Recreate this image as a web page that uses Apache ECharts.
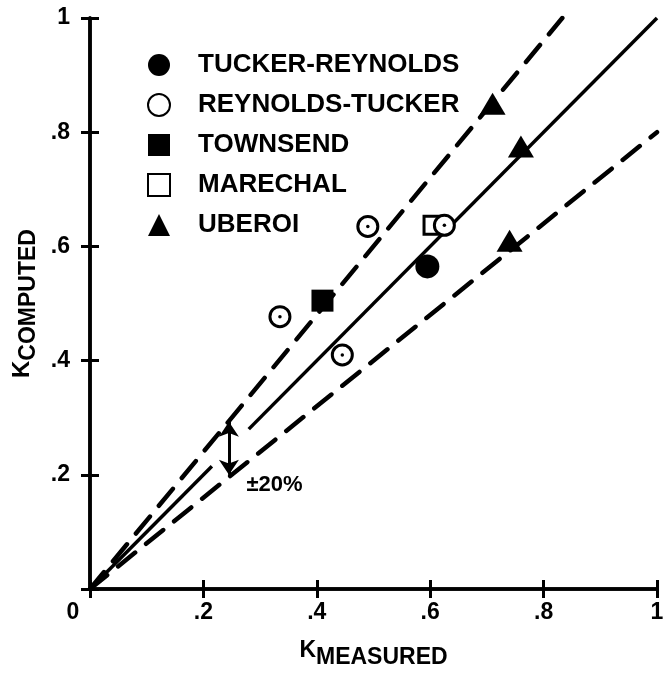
<!DOCTYPE html>
<html>
<head>
<meta charset="utf-8">
<script src="https://cdn.jsdelivr.net/npm/echarts@6/dist/echarts.min.js"></script>
<style>
  html, body { margin: 0; padding: 0; background: #fff; }
  #chart { width: 669px; height: 674px; }
</style>
</head>
<body>
<div id="chart"></div>
<script>
// Measured vs computed K for several data sets
const tuckerReynolds = [[0.595, 0.565]];
const reynoldsTucker = [[0.335, 0.477], [0.445, 0.41], [0.49, 0.635], [0.625, 0.637]];
const townsend = [[0.41, 0.505]];
const marechal = [[0.605, 0.637]];
const uberoi = [[0.71, 0.85], [0.76, 0.775], [0.74, 0.61]];

// Reference lines: perfect agreement (with a break at the annotation) and +/-20 %
const perfectLow = [[0, 0], [0.215, 0.215]];
const perfectHigh = [[0.28, 0.28], [1, 1]];
const plus20 = [[0, 0], [0.833, 1]];
const minus20 = [[0, 0], [1, 0.8]];

// Double-headed arrow marking the band and its label
const bandArrow = [[0.245, 0.2], [0.245, 0.293]];
const bandLabel = [[0.276, 0.183]];
const bandText = '\u00b120%';

// Axis ticks
const tickValues = [0, 0.2, 0.4, 0.6, 0.8, 1];
const tickLabels = ['0', '.2', '.4', '.6', '.8', '1'];

const FONT = '"Liberation Sans", Arial, sans-serif';
const INK = '#000';

function labelFor(v) {
  const i = tickValues.findIndex(t => Math.abs(t - v) < 1e-6);
  return i >= 0 ? tickLabels[i] : '';
}

const axisLineStyle = { color: INK, width: 3.5 };
const tickStyle = { show: true, inside: true, length: 9, lineStyle: { color: INK, width: 3 } };

const chart = echarts.init(document.getElementById('chart'), null, { renderer: 'canvas' });

chart.setOption({
  animation: false,
  backgroundColor: '#fff',
  grid: { left: 90, top: 18, width: 567, height: 575 },
  legend: {
    orient: 'vertical',
    left: 142,
    top: 47,
    itemWidth: 22,
    itemHeight: 22,
    itemGap: 14,
    selectedMode: false,
    textStyle: { color: INK, fontFamily: FONT, fontWeight: 'bold', fontSize: 26, lineHeight: 26, padding: [0, 0, 0, 23] },
    data: ['TUCKER-REYNOLDS', 'REYNOLDS-TUCKER', 'TOWNSEND', 'MARECHAL', 'UBEROI']
  },
  xAxis: [
    {
      type: 'value', min: 0, max: 1, interval: 0.2, position: 'bottom',
      axisLine: { show: true, lineStyle: axisLineStyle },
      axisTick: tickStyle,
      splitLine: { show: false },
      axisLabel: {
        margin: 12,
        color: INK, fontFamily: FONT, fontWeight: 'bold', fontSize: 23,
        formatter: v => v === 0 ? '{z|0}' : labelFor(v),
        rich: { z: { color: INK, fontFamily: FONT, fontWeight: 'bold', fontSize: 23, padding: [0, 34, 0, 0] } }
      },
      name: '{k|K}{s|MEASURED}',
      nameLocation: 'middle',
      nameGap: 50,
      nameTextStyle: {
        color: INK,
        rich: {
          k: { color: INK, fontFamily: FONT, fontWeight: 'bold', fontSize: 23, verticalAlign: 'top', lineHeight: 30 },
          s: { color: INK, fontFamily: FONT, fontWeight: 'bold', fontSize: 23, verticalAlign: 'bottom', lineHeight: 30, padding: [8, 0, 0, 0] }
        }
      }
    },
    {
      type: 'value', min: 0, max: 1, interval: 0.2, position: 'top',
      axisLine: { show: true, lineStyle: axisLineStyle },
      axisTick: tickStyle,
      axisLabel: { show: false },
      splitLine: { show: false }
    }
  ],
  yAxis: [
    {
      type: 'value', min: 0, max: 1, interval: 0.2, position: 'left',
      axisLine: { show: true, lineStyle: axisLineStyle },
      axisTick: tickStyle,
      splitLine: { show: false },
      axisLabel: {
        margin: 20,
        color: INK, fontFamily: FONT, fontWeight: 'bold', fontSize: 23,
        formatter: v => v === 0 ? '' : labelFor(v)
      },
      name: '{k|K}{s|COMPUTED}',
      nameLocation: 'middle',
      nameRotate: 90,
      nameGap: 48,
      nameTextStyle: {
        color: INK,
        rich: {
          k: { color: INK, fontFamily: FONT, fontWeight: 'bold', fontSize: 24, verticalAlign: 'top', lineHeight: 30 },
          s: { color: INK, fontFamily: FONT, fontWeight: 'bold', fontSize: 23, verticalAlign: 'bottom', lineHeight: 30, padding: [8, 0, 0, 0] }
        }
      }
    },
    {
      type: 'value', min: 0, max: 1, interval: 0.2, position: 'right',
      axisLine: { show: true, lineStyle: axisLineStyle },
      axisTick: tickStyle,
      axisLabel: { show: false },
      splitLine: { show: false }
    }
  ],
  series: [
    {
      name: 'perfect-low', type: 'line', data: perfectLow, symbol: 'none', z: 1,
      lineStyle: { color: INK, width: 3.5 }, silent: true
    },
    {
      name: 'perfect-high', type: 'line', data: perfectHigh, symbol: 'none', z: 1,
      lineStyle: { color: INK, width: 3.5 }, silent: true
    },
    {
      name: 'plus20', type: 'line', data: plus20, symbol: 'none', z: 1,
      lineStyle: { color: INK, width: 4.5, type: [22, 14], cap: 'round' }, silent: true
    },
    {
      name: 'minus20', type: 'line', data: minus20, symbol: 'none', z: 1,
      lineStyle: { color: INK, width: 4.5, type: [22, 14], cap: 'round' }, silent: true
    },
    {
      name: 'band', type: 'lines', coordinateSystem: 'cartesian2d', z: 2, silent: true,
      symbol: ['arrow', 'arrow'], symbolSize: 15,
      lineStyle: { color: INK, width: 3, opacity: 1 },
      data: [{ coords: bandArrow }]
    },
    {
      name: 'band-label', type: 'scatter', data: bandLabel, symbolSize: 0, z: 2, silent: true,
      itemStyle: { opacity: 1 },
      label: {
        show: true, position: 'right', distance: 0, formatter: bandText,
        color: INK, fontFamily: FONT, fontWeight: 'bold', fontSize: 22
      }
    },
    {
      name: 'TUCKER-REYNOLDS', type: 'scatter', data: tuckerReynolds, symbol: 'circle', symbolSize: 24, z: 3,
      itemStyle: { color: INK, opacity: 1 }
    },
    {
      name: 'TOWNSEND', type: 'scatter', data: townsend, symbol: 'rect', symbolSize: 22, z: 3,
      itemStyle: { color: INK, opacity: 1 }
    },
    {
      name: 'MARECHAL', type: 'scatter', data: marechal, symbol: 'rect', symbolSize: 18, z: 3,
      itemStyle: { color: '#fff', borderColor: INK, borderWidth: 3, opacity: 1 }
    },
    {
      name: 'REYNOLDS-TUCKER', type: 'scatter', data: reynoldsTucker, symbol: 'circle', symbolSize: 20, z: 4,
      itemStyle: { color: '#fff', borderColor: INK, borderWidth: 3, opacity: 1 }
    },
    {
      name: 'reynolds-tucker-centre', type: 'scatter', data: reynoldsTucker, symbol: 'circle', symbolSize: 3.5, z: 5,
      itemStyle: { color: INK, opacity: 1 }, silent: true
    },
    {
      name: 'UBEROI', type: 'scatter', data: uberoi, symbol: 'triangle', symbolSize: [26, 22], z: 3,
      itemStyle: { color: INK, opacity: 1 }
    }
  ]
});
</script>
</body>
</html>
